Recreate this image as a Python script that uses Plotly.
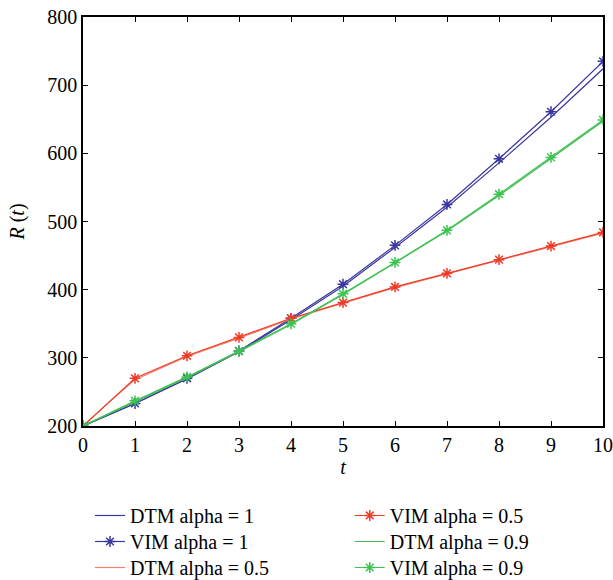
import plotly.graph_objects as go

t = [0, 1, 2, 3, 4, 5, 6, 7, 8, 9, 10]
t_dtm05 = [0, 0.5, 1, 2, 3, 4, 5, 6, 7, 8, 9, 10]

dtm_a1 = [200, 233, 269, 309, 356, 405, 462, 521, 586, 653, 724]
vim_a1 = [200, 233, 270, 310, 358, 408, 465, 525, 592, 661, 735]
dtm_a05 = [200, 235, 268, 302, 329, 357, 380, 403, 423, 443, 463, 483]
vim_a05 = [200, 270, 303, 330, 358, 381, 404, 424, 444, 464, 484]
dtm_a09 = [200, 236, 271, 309, 349, 393, 439, 486, 538, 592, 647]
vim_a09 = [200, 237, 272, 310, 350, 394, 440, 487, 540, 594, 649]

BLUE = "#3b379e"
RED = "#ef3b26"
SALMON = "#f4806c"
GREEN = "#4cb85a"
GREEN_M = "#3cc452"

FONT = "Liberation Serif"

fig = go.Figure()
fig.add_trace(go.Scatter(x=t, y=dtm_a1, mode="lines", name="DTM alpha = 1",
                         line=dict(color=BLUE, width=1.2), legend="legend"))
fig.add_trace(go.Scatter(x=t, y=vim_a1, mode="lines+markers", name="VIM alpha = 1",
                         line=dict(color=BLUE, width=1.2),
                         marker=dict(symbol="asterisk-open", size=9, color=BLUE,
                                     line=dict(color=BLUE, width=1.5)), legend="legend2"))
fig.add_trace(go.Scatter(x=t_dtm05, y=dtm_a05, mode="lines", name="DTM alpha = 0.5",
                         line=dict(color=SALMON, width=1.2), legend="legend3"))
fig.add_trace(go.Scatter(x=t, y=vim_a05, mode="lines+markers", name="VIM alpha = 0.5",
                         line=dict(color=RED, width=1.2),
                         marker=dict(symbol="asterisk-open", size=9, color=RED,
                                     line=dict(color=RED, width=1.5)), legend="legend4"))
fig.add_trace(go.Scatter(x=t, y=dtm_a09, mode="lines", name="DTM alpha = 0.9",
                         line=dict(color=GREEN, width=1.2), legend="legend5"))
fig.add_trace(go.Scatter(x=t, y=vim_a09, mode="lines+markers", name="VIM alpha = 0.9",
                         line=dict(color=GREEN_M, width=1.2),
                         marker=dict(symbol="asterisk-open", size=9, color=GREEN_M,
                                     line=dict(color=GREEN_M, width=1.5)), legend="legend6"))

axis_common = dict(showline=True, linecolor="black", linewidth=1.5, mirror="allticks",
                   ticks="inside", ticklen=5, tickwidth=1.2, tickcolor="black",
                   showgrid=False, zeroline=False,
                   tickfont=dict(family=FONT, size=20, color="black"))

fig.update_xaxes(range=[0, 10], tickvals=t, ticktext=[str(v) for v in t],
                 title=dict(text="<i>t</i>", font=dict(family=FONT, size=20, color="black"),
                            standoff=4),
                 **axis_common)
fig.update_yaxes(range=[200, 800], tickvals=[200, 300, 400, 500, 600, 700, 800],
                 title=dict(text="<i>R</i> (<i>t</i>)", font=dict(family=FONT, size=20, color="black"),
                            standoff=17),
                 **axis_common)

legend_common = dict(orientation="v", yanchor="top", xanchor="left",
                     font=dict(family=FONT, size=20, color="black"),
                     bgcolor="rgba(0,0,0,0)", tracegroupgap=0, itemwidth=30)
col_x = [0.0135, 0.513]
row_y = [-0.1711, -0.2347, -0.2983]
fig.update_layout(
    width=613, height=580,
    margin=dict(l=83, r=10, t=17, b=154, autoexpand=False),
    plot_bgcolor="white", paper_bgcolor="white",
    showlegend=True,
    legend=dict(x=col_x[0], y=row_y[0], **legend_common),
    legend2=dict(x=col_x[0], y=row_y[1], **legend_common),
    legend3=dict(x=col_x[0], y=row_y[2], **legend_common),
    legend4=dict(x=col_x[1], y=row_y[0], **legend_common),
    legend5=dict(x=col_x[1], y=row_y[1], **legend_common),
    legend6=dict(x=col_x[1], y=row_y[2], **legend_common),
)

fig.write_html("out.html")
